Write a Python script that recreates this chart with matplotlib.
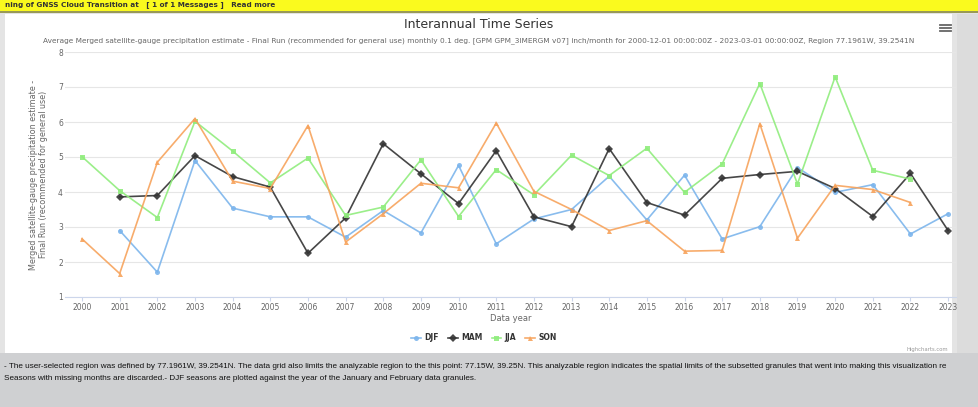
import numpy as np
import matplotlib
matplotlib.use("Agg")
import matplotlib.pyplot as plt
from matplotlib.patches import Rectangle
from matplotlib.lines import Line2D

W, H = 979, 407

years = list(range(2000, 2024))
nan = np.nan

djf = [nan, 2.90, 1.71, 4.90, 3.54, 3.29, 3.29, 2.71, 3.47, 2.83, 4.76, 2.52,
       3.23, 3.50, 4.45, 3.20, 4.48, 2.66, 3.01, 4.70, 3.99, 4.21, 2.80, 3.38]
mam = [nan, 3.86, 3.90, 5.04, 4.44, 4.14, 2.25, 3.26, 5.38, 4.52, 3.67, 5.18,
       3.29, 3.01, 5.24, 3.70, 3.34, 4.39, 4.50, 4.59, 4.10, 3.30, 4.53, 2.90]
jja = [5.01, 4.04, 3.27, 6.02, 5.17, 4.26, 4.97, 3.33, 3.57, 4.92, 3.30, 4.64,
       3.92, 5.05, 4.47, 5.25, 3.99, 4.80, 7.10, 4.23, 7.29, 4.62, 4.37, nan]
son = [2.66, 1.67, 4.85, 6.10, 4.31, 4.10, 5.90, 2.57, 3.38, 4.25, 4.12, 5.97,
       4.02, 3.50, 2.90, 3.18, 2.31, 2.33, 5.95, 2.68, 4.19, 4.07, 3.70, nan]

series = [
    ("DJF", djf, "#7cb5ec", "o"),
    ("MAM", mam, "#333333", "D"),
    ("JJA", jja, "#90ed7d", "s"),
    ("SON", son, "#f7a35c", "^"),
]

title = "Interannual Time Series"
subtitle = ("Average Merged satellite-gauge precipitation estimate - Final Run "
            "(recommended for general use) monthly 0.1 deg. [GPM GPM_3IMERGM v07] "
            "inch/month for 2000-12-01 00:00:00Z - 2023-03-01 00:00:00Z, "
            "Region 77.1961W, 39.2541N")
ylabel = "Merged satellite-gauge precipitation estimate -\nFinal Run (recommended for general use)"
notes = [
    "- The user-selected region was defined by 77.1961W, 39.2541N. The data grid also "
    "limits the analyzable region to the this point: 77.15W, 39.25N. This analyzable "
    "region indicates the spatial limits of the subsetted granules that went into "
    "making this visualization re",
    "Seasons with missing months are discarded.- DJF seasons are plotted against the "
    "year of the January and February data granules.",
]
banner = "ning of GNSS Cloud Transition at   [ 1 of 1 Messages ]   Read more"


def fx(px):
    return px / W


def fy(py):
    return 1 - py / H


fig = plt.figure(figsize=(W / 100, H / 100), dpi=100)
fig.patch.set_facecolor("#cfd0d2")

# page pieces
fig.add_artist(Rectangle((0, fy(353)), 1, (353 - 11) / H, transform=fig.transFigure,
                         facecolor="#e4e4e4", edgecolor="none", zorder=0))
fig.add_artist(Rectangle((fx(5), fy(353)), fx(952 - 5), (353 - 14) / H,
                         transform=fig.transFigure, facecolor="white",
                         edgecolor="none", zorder=0))
fig.add_artist(Rectangle((fx(957), fy(353)), fx(979 - 957), (353 - 14) / H,
                         transform=fig.transFigure, facecolor="#dcdcdc",
                         edgecolor="none", zorder=0))
fig.add_artist(Rectangle((0, fy(11)), 1, 11 / H, transform=fig.transFigure,
                         facecolor="#fafa1e", edgecolor="none", zorder=0))
fig.add_artist(Line2D([0, 1], [fy(12), fy(12)], transform=fig.transFigure,
                      color="#8a8a3a", lw=1.2))
fig.text(fx(5), fy(5), banner, fontsize=5.2, fontweight="bold", color="#333333",
         va="center", ha="left")

fig.text(fx(479), fy(25), title, fontsize=9.0, color="#333333", ha="center", va="center")
fig.text(fx(479), fy(41), subtitle, fontsize=5.35, color="#666666", ha="center", va="center")

# hamburger menu
for dy in (-3, 0, 3):
    fig.add_artist(Line2D([fx(940), fx(951)], [fy(28 + dy), fy(28 + dy)],
                          transform=fig.transFigure, color="#666666", lw=1.3))

ax = fig.add_axes([fx(65), fy(297), fx(956 - 65), (297 - 52) / H])
ax.set_facecolor("none")
for name, vals, color, marker in series:
    ax.plot(years, vals, color=color, lw=1.2, marker=marker, markersize=3.6,
            markeredgewidth=0, label=name, alpha=0.9)

ax.set_xlim(1999.548, 2023.21)
ax.set_ylim(1, 8)
ax.set_xticks(years)
ax.set_yticks(range(1, 9))
ax.grid(axis="y", color="#e6e6e6", lw=0.8)
ax.set_axisbelow(True)
for side in ("top", "right", "left"):
    ax.spines[side].set_visible(False)
ax.spines["bottom"].set_color("#ccd6eb")
ax.tick_params(axis="x", colors="#ccd6eb", labelcolor="#666666", labelsize=5.5,
               length=3, pad=1.5)
ax.tick_params(axis="y", length=0, labelcolor="#666666", labelsize=5.5, pad=1.5)
ax.set_xlabel("Data year", fontsize=6, color="#666666", labelpad=1)
ax.set_ylabel(ylabel, fontsize=5.8, color="#666666", labelpad=7)

fig.legend(loc="center", bbox_to_anchor=(fx(484), fy(338)), ncol=4, frameon=False,
           prop={"size": 5.5, "weight": "bold"}, labelcolor="#333333",
           handlelength=1.3, columnspacing=1.2, handletextpad=0.4)

fig.text(fx(948), fy(349), "Highcharts.com", fontsize=3.8, color="#999999",
         ha="right", va="center")

fig.text(fx(4), fy(367), notes[0], fontsize=5.9, family="Liberation Sans",
         color="#111111", ha="left", va="center")
fig.text(fx(4), fy(379), notes[1], fontsize=5.9, family="Liberation Sans",
         color="#111111", ha="left", va="center")

fig.savefig("out.png", dpi=100, facecolor=fig.get_facecolor())
